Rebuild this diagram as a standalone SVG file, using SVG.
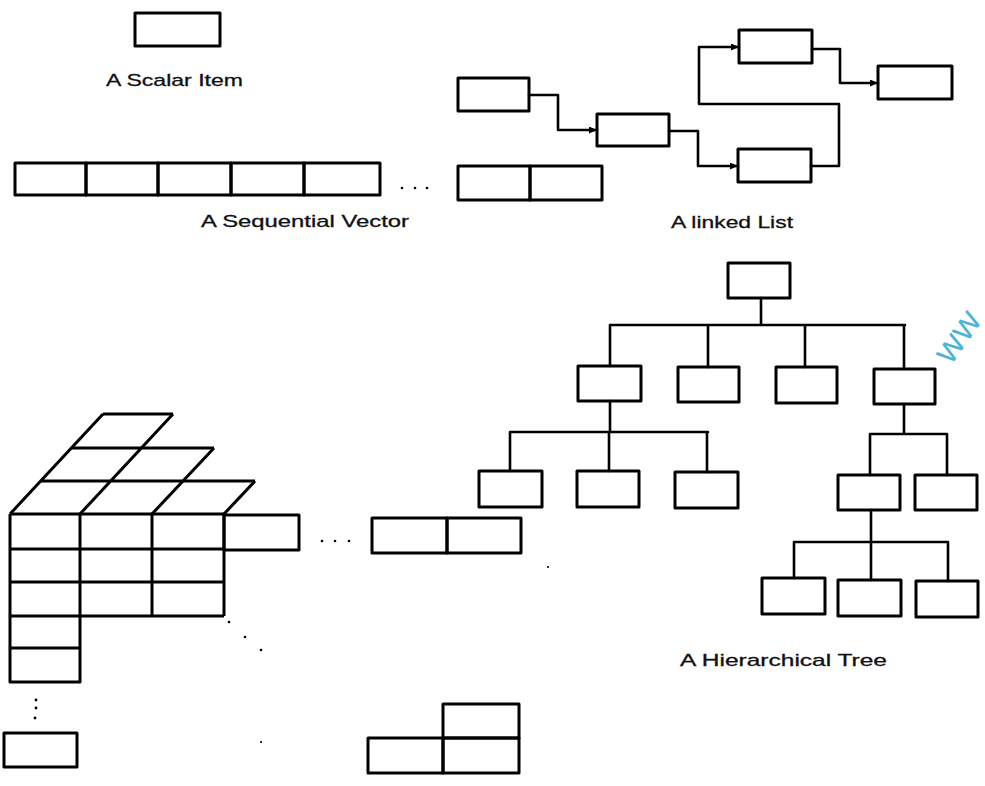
<svg xmlns="http://www.w3.org/2000/svg" width="985" height="786" viewBox="0 0 985 786">
<style>
.b{fill:none;stroke:#000;stroke-width:3;stroke-linejoin:round}
.l{fill:none;stroke:#000;stroke-width:2.6;stroke-linejoin:round;stroke-linecap:round}
.t{font-family:"Liberation Sans",Arial,sans-serif;font-size:17px;fill:#111;stroke:#111;stroke-width:0.3}
.d{fill:#000}
</style>
<defs>
<marker id="ah" markerUnits="userSpaceOnUse" markerWidth="10" markerHeight="8" refX="8" refY="3.5" orient="auto">
<path d="M0,0 L8,3.5 L0,7 z" fill="#000"/>
</marker>
</defs>
<rect width="985" height="786" fill="#fff"/>

<g id="scalar">
<rect class="b" x="135" y="13" width="85" height="33"/>
<text class="t" x="106" y="86" textLength="137" lengthAdjust="spacingAndGlyphs">A Scalar Item</text>
</g>

<g id="vector">
<rect class="b" x="15" y="163" width="71" height="32"/>
<rect class="b" x="86" y="163" width="72" height="32"/>
<rect class="b" x="158" y="163" width="73" height="32"/>
<rect class="b" x="231" y="163" width="73" height="32"/>
<rect class="b" x="304" y="163" width="76" height="32"/>
<circle class="d" cx="402" cy="188" r="1.3"/>
<circle class="d" cx="415" cy="188" r="1.3"/>
<circle class="d" cx="427" cy="188" r="1.3"/>
<text class="t" x="201" y="227" textLength="208" lengthAdjust="spacingAndGlyphs">A Sequential Vector</text>
</g>

<g id="list-a"><rect class="b" x="458" y="78" width="71" height="33"/></g>
<g id="list-b"><rect class="b" x="597" y="114" width="72" height="32"/></g>
<g id="list-c"><rect class="b" x="739" y="30" width="73" height="33"/></g>
<g id="list-d"><rect class="b" x="878" y="66" width="74" height="33"/></g>
<g id="list-e"><rect class="b" x="738" y="149" width="73" height="33"/></g>
<g id="list-node">
<rect class="b" x="458" y="166" width="72" height="34"/>
<rect class="b" x="530" y="166" width="72" height="34"/>
</g>
<text class="t" x="671" y="228" textLength="122" lengthAdjust="spacingAndGlyphs">A linked List</text>

<g id="tree-root"><rect class="b" x="728" y="263" width="62" height="35"/></g>
<g id="tree-1a"><rect class="b" x="578" y="366" width="63" height="35"/></g>
<g id="tree-1b"><rect class="b" x="678" y="367" width="61" height="35"/></g>
<g id="tree-1c"><rect class="b" x="776" y="367" width="61" height="36"/></g>
<g id="tree-1d"><rect class="b" x="874" y="369" width="61" height="35"/></g>
<g id="tree-2a"><rect class="b" x="479" y="471" width="63" height="36"/></g>
<g id="tree-2b"><rect class="b" x="577" y="471" width="62" height="36"/></g>
<g id="tree-2c"><rect class="b" x="675" y="472" width="63" height="36"/></g>
<g id="tree-2d"><rect class="b" x="838" y="475" width="62" height="35"/></g>
<g id="tree-2e"><rect class="b" x="915" y="475" width="62" height="35"/></g>
<g id="tree-3a"><rect class="b" x="762" y="578" width="63" height="36"/></g>
<g id="tree-3b"><rect class="b" x="838" y="580" width="63" height="36"/></g>
<g id="tree-3c"><rect class="b" x="916" y="581" width="62" height="36"/></g>
<text class="t" x="680" y="666" textLength="207" lengthAdjust="spacingAndGlyphs">A Hierarchical Tree</text>

<g id="connectors">
<path class="l" d="M529,95 H558 V130 H597" marker-end="url(#ah)"/>
<path class="l" d="M669,131 H698 V166 H738" marker-end="url(#ah)"/>
<path class="l" d="M811,166 H839 V104 H699 V47 H739" marker-end="url(#ah)"/>
<path class="l" d="M812,49 H840 V83 H878" marker-end="url(#ah)"/>
<path class="l" d="M761,298 V325 M610,325 H905 M610,325 V366 M708,325 V367 M805,325 V367 M904,325 V369"/>
<path class="l" d="M610,401 V432 M510,432 H708 M510,432 V471 M609,432 V471 M707,432 V472"/>
<path class="l" d="M904,404 V434 M870,434 H947 M870,434 V475 M947,434 V475"/>
<path class="l" d="M871,510 V542 M794,542 H948 M794,542 V578 M871,542 V580 M948,542 V581"/>
</g>

<g id="array3d">
<path class="b" d="M10,514 H224 M41,481 H255 M72,448 H214 M103,414 H173"/>
<path class="b" d="M10,514 L103,414 M80,514 L173,414 M152,514 L214,448 M224,514 L255,481"/>
<path class="b" d="M10,514 V682 H80 V514 M10,549 H224 M10,582 H224 M10,616 H224 M152,514 V616 M224,514 V616 M10,648 H80"/>
<rect class="b" x="224" y="515" width="75" height="35"/>
<circle class="d" cx="322" cy="541" r="1.3"/>
<circle class="d" cx="335" cy="541" r="1.3"/>
<circle class="d" cx="349" cy="541" r="1.3"/>
<rect class="b" x="372" y="518" width="75" height="35"/>
<rect class="b" x="447" y="518" width="74" height="35"/>
<circle class="d" cx="229" cy="622" r="1.3"/>
<circle class="d" cx="245" cy="637" r="1.3"/>
<circle class="d" cx="261" cy="650" r="1.3"/>
<circle class="d" cx="548" cy="567" r="1.1"/>
<circle class="d" cx="261" cy="742" r="1.1"/>
<circle class="d" cx="36" cy="700" r="1.4"/>
<circle class="d" cx="36" cy="708" r="1.4"/>
<circle class="d" cx="35" cy="718" r="1.4"/>
<rect class="b" x="4" y="733" width="73" height="34"/>
<rect class="b" x="443" y="704" width="76" height="34"/>
<rect class="b" x="368" y="738" width="75" height="35"/>
<rect class="b" x="443" y="738" width="76" height="35"/>
</g>

<text x="0" y="0" transform="translate(951,366) rotate(-55)" font-family="'Open Sans','DejaVu Sans',sans-serif" font-size="36" fill="#4fb3d3">ww</text>
</svg>
